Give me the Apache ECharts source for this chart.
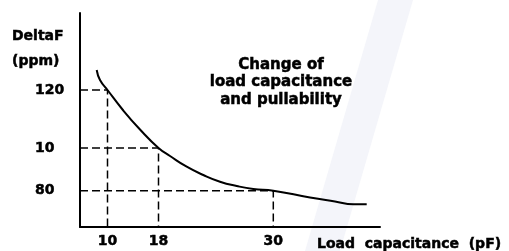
<!DOCTYPE html>
<html>
<head>
<meta charset="utf-8">
<script src="https://cdn.jsdelivr.net/npm/echarts@6/dist/echarts.min.js"></script>
<style>
  html, body { margin: 0; padding: 0; background: #fff; }
  #chart { width: 509px; height: 251px; }
</style>
</head>
<body>
<div id="chart"></div>
<script>
// schematic chart: positions along the axes are drawing units, labels are what the picture shows
const xTickPos = [27.5, 78.5, 193.3]
const xTickLabels = ['10', '18', '30']
const yTickPos = [137, 79, 36.3]
const yTickLabels = ['120', '10', '80']

const curveX = [16.7, 20, 27.5, 43.3, 60, 78.5, 90, 106.7, 123.3, 140, 156.7, 173.3, 193.3, 230, 255, 273.3, 286.7]
const curveY = [157, 147, 137, 116.5, 97.5, 79, 71, 60.3, 52, 45.3, 41, 38, 36.3, 29.5, 25.5, 22.7, 22.7]

const font = 'DejaVu Sans'
const heavy = { fontFamily: font, fontWeight: 'bold', color: '#000', textBorderColor: '#000', textBorderWidth: 0.5 }
const chart = echarts.init(document.getElementById('chart'))

const guides = xTickPos.map((x, i) => ({
  type: 'line',
  silent: true,
  symbol: 'none',
  lineStyle: { color: '#000', width: 1.5, type: [8, 4] },
  data: [[0, yTickPos[i]], [x, yTickPos[i]], [x, 0]],
}))

chart.setOption({
  backgroundColor: '#fff',
  animation: false,
  graphic: [{
    type: 'polygon',
    silent: true,
    z: -10,
    shape: { points: [[378, 0], [413, 0], [340, 251], [305, 251]] },
    style: { fill: '#f4f5fa' },
  }],
  title: [
    {
      text: 'Change of\nload capacitance\nand pullability',
      left: 281, top: 56, padding: 0,
      textAlign: 'center',
      textStyle: { ...heavy, fontSize: 15, lineHeight: 17.5, align: 'center' },
    },
    {
      text: 'DeltaF\n(ppm)',
      left: 12, top: 24, padding: 0,
      textStyle: { ...heavy, fontSize: 14, lineHeight: 25 },
    },
    {
      text: 'Load  capacitance  (pF)',
      left: 317, top: 237, padding: 0,
      textStyle: { ...heavy, fontSize: 14, lineHeight: 15 },
    },
  ],
  grid: { left: 80, top: 13, width: 300, height: 214 },
  xAxis: {
    type: 'value',
    min: 0,
    max: 300,
    splitLine: { show: false },
    axisTick: { show: false },
    axisLine: { lineStyle: { color: '#000', width: 2 } },
    axisLabel: {
      customValues: xTickPos,
      formatter: (v) => xTickLabels[xTickPos.indexOf(v)] ?? '',
      ...heavy, fontSize: 14, margin: 7,
    },
  },
  yAxis: {
    type: 'value',
    min: 0,
    max: 214,
    splitLine: { show: false },
    axisTick: { show: false },
    axisLine: { show: true, lineStyle: { color: '#000', width: 2 } },
    axisLabel: {
      customValues: yTickPos,
      formatter: (v) => yTickLabels[yTickPos.indexOf(v)] ?? '',
      ...heavy, fontSize: 14, align: 'left', margin: 45,
    },
  },
  series: [
    ...guides,
    {
      type: 'line',
      symbol: 'none',
      smooth: 0.5,
      lineStyle: { color: '#000', width: 2 },
      data: curveX.map((x, i) => [x, curveY[i]]),
      z: 3,
    },
  ],
})
</script>
</body>
</html>
